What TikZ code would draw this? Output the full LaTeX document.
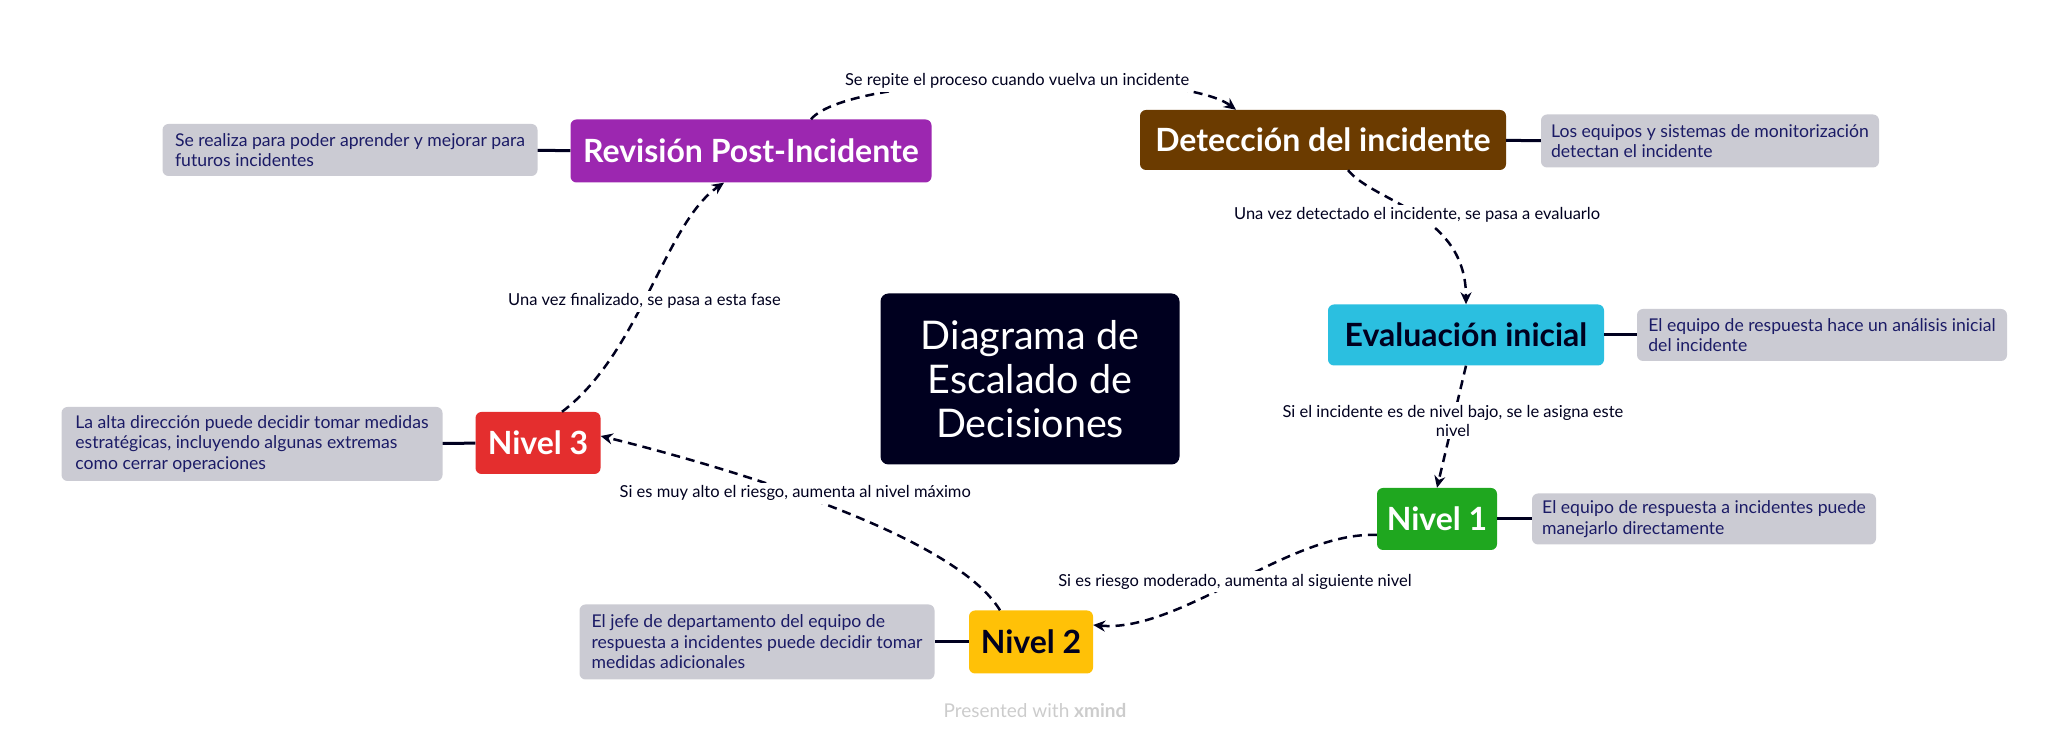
\documentclass[tikz,border=0pt]{standalone}
\usepackage{fontspec}
\setmainfont{Lato}
\usetikzlibrary{arrows.meta}

\definecolor{navy}{HTML}{00001F}
\definecolor{notegray}{HTML}{CBCBD3}
\definecolor{notetext}{HTML}{1B1B66}
\definecolor{revpurple}{HTML}{9C27B0}
\definecolor{detbrown}{HTML}{6B3B00}
\definecolor{evalcyan}{HTML}{2BBFE0}
\definecolor{lvlgreen}{HTML}{1FA71F}
\definecolor{lvlyellow}{HTML}{FFC107}
\definecolor{lvlred}{HTML}{E42E2E}

\tikzset{
    topic/.style={rounded corners=6pt, text=white, inner sep=0pt,
        font=\fontsize{32}{36}\selectfont\bfseries},
    note/.style={rounded corners=6pt, fill=notegray, text=notetext, align=left,
        inner xsep=6pt, inner ysep=4pt, minimum width=#1,
        font=\fontsize{17.6}{20.5}\selectfont},
    tag/.style={fill=white, text=navy, inner sep=3pt, align=center,
        font=\fontsize{16.5}{19}\selectfont},
    flow/.style={navy, line width=2.5pt, dash pattern=on 9pt off 6pt,
        -{Stealth[length=12pt,width=11pt]}},
    link/.style={navy, line width=3pt},
}

\begin{document}
\begin{tikzpicture}[x=1pt,y=1pt]
\useasboundingbox (0,0) rectangle (2072,743);

% Draw the central title
\node[rounded corners=8pt, fill=navy, text=white, align=center,
    minimum width=299pt, minimum height=171pt,
    font=\fontsize{39.5}{44}\selectfont] (main) at (1030,364)
    {Diagrama de\\Escalado de\\Decisiones};

% Draw the phases and levels
\node[topic, fill=revpurple, minimum width=361pt, minimum height=63pt] (rev) at (751,592) {Revisión Post-Incidente};
\node[topic, fill=detbrown, minimum width=366pt, minimum height=60pt] (det) at (1323,603) {Detección del incidente};
\node[topic, fill=evalcyan, text=navy, minimum width=276pt, minimum height=61pt] (eval) at (1466,408) {Evaluación inicial};
\node[topic, fill=lvlgreen, minimum width=120pt, minimum height=62pt] (n1) at (1437,224) {Nivel 1};
\node[topic, fill=lvlyellow, text=navy, minimum width=124pt, minimum height=63pt] (n2) at (1031,101) {Nivel 2};
\node[topic, fill=lvlred, minimum width=125pt, minimum height=62pt] (n3) at (538,300) {Nivel 3};

% Draw the notes beside each topic
\node[note=375pt, minimum height=52pt] (revnote) at (350,593) {Se realiza para poder aprender y mejorar para\\futuros incidentes};
\node[note=338pt, minimum height=53pt] (detnote) at (1710,602) {Los equipos y sistemas de monitorización\\detectan el incidente};
\node[note=370pt, minimum height=52pt] (evalnote) at (1822,408) {El equipo de respuesta hace un análisis inicial\\del incidente};
\node[note=344pt, minimum height=51pt] (n1note) at (1704,224) {El equipo de respuesta a incidentes puede\\manejarlo directamente};
\node[note=355pt, minimum height=75pt] (n2note) at (757,101) {El jefe de departamento del equipo de\\respuesta a incidentes puede decidir tomar\\medidas adicionales};
\node[note=381pt, minimum height=74pt] (n3note) at (252,299) {La alta dirección puede decidir tomar medidas\\estratégicas, incluyendo algunas extremas\\como cerrar operaciones};

\foreach \t/\n in {rev/revnote, det/detnote, eval/evalnote, n1/n1note, n2/n2note, n3/n3note} {
    \draw[link] (\t) -- (\n);
}

% Draw the dashed arrows of the cycle
\draw[flow] ([xshift=60pt]rev.north) .. controls (850,671) and (1180,675) .. ([xshift=-87pt]det.north)
    node[tag, midway] (lblrep) {Se repite el proceso cuando vuelva un incidente};
\draw[flow] ([xshift=25pt]det.south) .. controls (1375,540) and (1466,530) .. (eval.north)
    node[tag, midway] (lbleval) {Una vez detectado el incidente, se pasa a evaluarlo};
\draw[flow] (eval.south) -- (n1.north)
    node[tag, pos=0.45] (lbln1) {Si el incidente es de nivel bajo, se le asigna este\\nivel};
\draw[flow] ([yshift=-16pt]n1.west) .. controls (1290,212) and (1180,110) .. ([yshift=17pt]n2.east)
    node[tag, midway] (lbln2) {Si es riesgo moderado, aumenta al siguiente nivel};
\draw[flow] ([xshift=-31pt]n2.north) .. controls (950,215) and (690,285) .. ([yshift=7pt]n3.east)
    node[tag, pos=0.54] (lbln3) {Si es muy alto el riesgo, aumenta al nivel máximo};
\draw[flow] ([xshift=24pt]n3.north) .. controls (640,390) and (665,520) .. ([xshift=-27pt]rev.south)
    node[tag, pos=0.46] (lblrev) {Una vez finalizado, se pasa a esta fase};

% Draw the footer
\node[text=black!20, font=\fontsize{19}{22}\selectfont] (brand) at (1035,32) {Presented with \textbf{xmind}};

\end{tikzpicture}
\end{document}
